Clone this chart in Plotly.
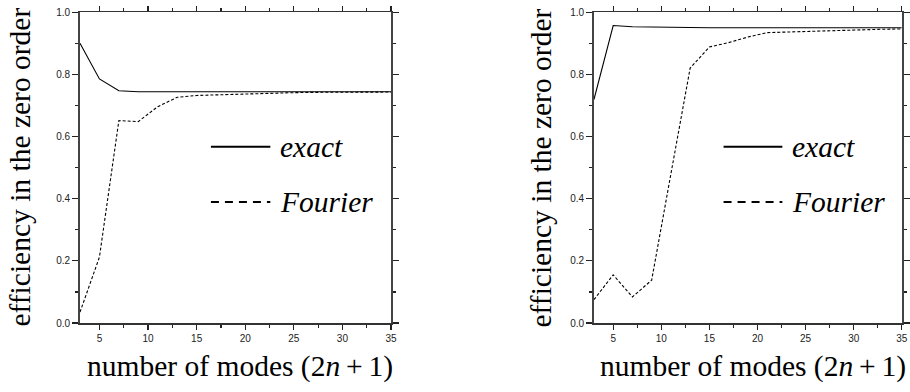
import plotly.graph_objects as go

modes = [3, 5, 7, 9, 11, 13, 15, 17, 19, 21, 23, 25, 27, 29, 31, 33, 35]

left_exact = [0.900, 0.785, 0.747, 0.744, 0.744, 0.744, 0.744, 0.744, 0.744,
              0.744, 0.744, 0.744, 0.744, 0.744, 0.744, 0.744, 0.744]
left_fourier = [0.035, 0.212, 0.651, 0.648, 0.696, 0.726, 0.732, 0.734, 0.737,
                0.739, 0.740, 0.741, 0.742, 0.742, 0.743, 0.743, 0.743]

right_exact = [0.719, 0.957, 0.953, 0.952, 0.950, 0.950, 0.950, 0.950, 0.950,
               0.950, 0.950, 0.950, 0.950, 0.950, 0.950, 0.950, 0.950]
right_fourier = [0.075, 0.155, 0.084, 0.138, 0.480, 0.820, 0.888, 0.902, 0.920,
                 0.934, 0.936, 0.938, 0.941, 0.943, 0.944, 0.945, 0.946]

x_ticks = [5, 10, 15, 20, 25, 30, 35]
y_ticks = [0.0, 0.2, 0.4, 0.6, 0.8, 1.0]
legend_labels = ["exact", "Fourier"]
y_title = "efficiency in the zero order"
x_title = "number of modes (2<i>n</i>\u2009+\u20091)"

SERIF = "Liberation Serif, Times New Roman, serif"
SANS = "Liberation Sans, Arial, sans-serif"

fig = go.Figure()
for xa, ya, ex, fo in [("x", "y", left_exact, left_fourier),
                       ("x2", "y2", right_exact, right_fourier)]:
    fig.add_trace(go.Scatter(x=modes, y=ex, mode="lines", xaxis=xa, yaxis=ya,
                             line=dict(color="black", width=1.1),
                             name=legend_labels[0], showlegend=False))
    fig.add_trace(go.Scatter(x=modes, y=fo, mode="lines", xaxis=xa, yaxis=ya,
                             line=dict(color="black", width=1.1, dash="3px,2px"),
                             name=legend_labels[1], showlegend=False))

ydom = [0.176, 0.969]
common_x = dict(range=[3, 35], tickvals=x_ticks, ticks="outside", ticklen=5,
                tickwidth=1.2, tickcolor="#222", showline=True, linecolor="#333",
                linewidth=1.6, mirror="allticks", showgrid=False, zeroline=False,
                tickfont=dict(family=SANS, size=10, color="#222"),
                minor=dict(dtick=2.5, tick0=0, ticks="outside", ticklen=3,
                           tickcolor="#222", showgrid=False))
common_y = dict(range=[0, 1], tickvals=y_ticks, tickformat=".1f", ticks="outside",
                ticklen=6, tickwidth=1.2, tickcolor="#222", showline=True,
                linecolor="#444", linewidth=1.8, mirror="allticks", showgrid=False,
                zeroline=False, tickfont=dict(family=SANS, size=10, color="#222"),
                minor=dict(dtick=0.1, tick0=0, ticks="outside", ticklen=3,
                           tickcolor="#222", showgrid=False))

fig.update_layout(
    width=910, height=392,
    margin=dict(l=0, r=0, t=0, b=0, autoexpand=False),
    paper_bgcolor="white", plot_bgcolor="white",
    hovermode=False,
    xaxis=dict(domain=[0.0879, 0.4297], anchor="y", **common_x),
    yaxis=dict(domain=ydom, anchor="x", **common_y),
    xaxis2=dict(domain=[0.6527, 0.991], anchor="y2", **common_x),
    yaxis2=dict(domain=ydom, anchor="x2", **common_y),
)

shapes = []
annotations = []
for xa, ya, ytx, xtx in [("x", "y", 0.022, 0.2637), ("x2", "y2", 0.5945, 0.8275)]:
    for ly, dash, label in [(0.567, "solid", legend_labels[0]),
                            (0.389, "8px,6px", legend_labels[1])]:
        shapes.append(dict(type="line", xref=f"{xa} domain", yref=f"{ya} domain",
                           x0=0.421, x1=0.612, y0=ly, y1=ly,
                           line=dict(color="black", width=2, dash=dash)))
        annotations.append(dict(text=f"<i>{label}</i>", xref=f"{xa} domain",
                                yref=f"{ya} domain", x=0.638, y=ly,
                                xanchor="left", yanchor="middle", showarrow=False,
                                font=dict(family=SERIF, size=29.5, color="black")))
    annotations.append(dict(text=y_title, xref="paper", yref="paper", x=ytx,
                            y=0.5725, textangle=-90, xanchor="center",
                            yanchor="middle", showarrow=False,
                            font=dict(family=SERIF, size=29.5, color="black")))
    annotations.append(dict(text=x_title, xref="paper", yref="paper", x=xtx,
                            y=0.066, xanchor="center", yanchor="middle",
                            showarrow=False,
                            font=dict(family=SERIF, size=29.5, color="black")))

fig.update_layout(shapes=shapes, annotations=annotations)
fig.write_html(
    "out.html",
    config={"displayModeBar": False, "staticPlot": True},
    post_script="document.documentElement.style.margin='0';"
                "document.body.style.margin='0';document.body.style.padding='0';"
                "document.body.style.overflow='hidden';",
)
